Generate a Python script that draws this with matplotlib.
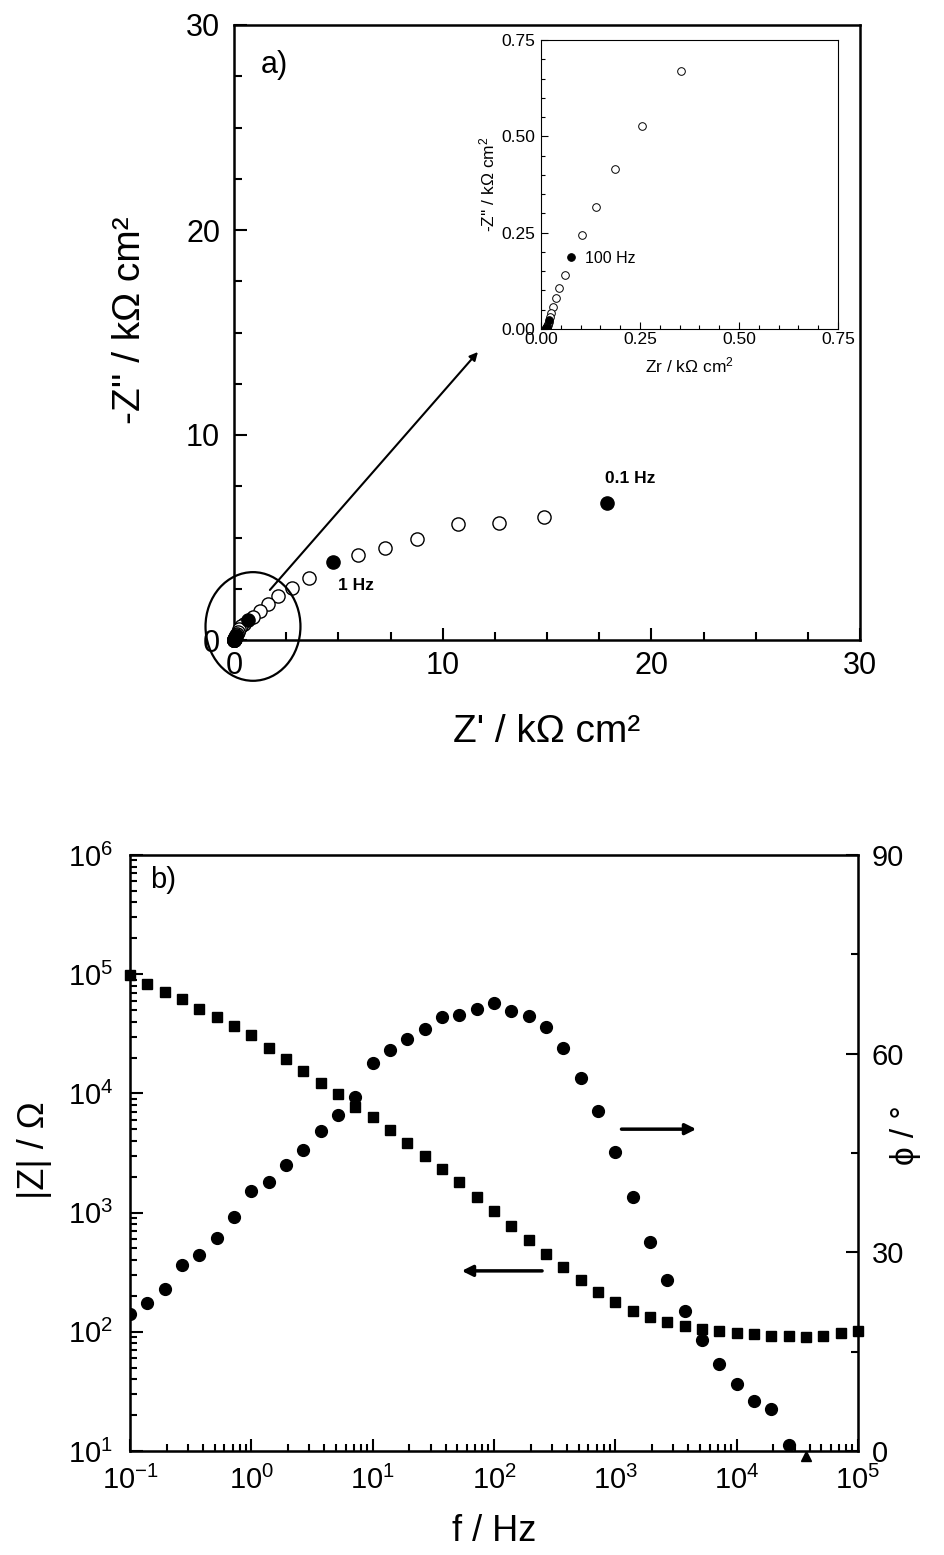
import matplotlib
matplotlib.use("Agg")
import matplotlib.pyplot as plt
from matplotlib.patches import Ellipse
from matplotlib.ticker import MultipleLocator, FormatStrFormatter, LogLocator, NullFormatter
import numpy as np

plt.rcParams["font.family"] = ["Liberation Sans", "DejaVu Sans"]
plt.rcParams["mathtext.fontset"] = "custom"
plt.rcParams["mathtext.rm"] = "Liberation Sans"
plt.rcParams["mathtext.it"] = "Liberation Sans:italic"

# frequencies (Hz), 7 points per decade, 0.1 Hz -> 100 kHz
freq = [0.1, 0.139, 0.193, 0.268, 0.373, 0.518, 0.720,
        1.0, 1.39, 1.93, 2.68, 3.73, 5.18, 7.20,
        10, 13.9, 19.3, 26.8, 37.3, 51.8, 72.0,
        100, 139, 193, 268, 373, 518, 720,
        1000, 1390, 1930, 2680, 3730, 5180, 7200,
        10000, 13900, 19300, 26800, 37300, 51800, 72000,
        100000]

# Nyquist data (kOhm cm2)
z_re = [17.86, 14.85, 12.70, 10.72, 8.75, 7.24, 5.96, 4.76, 3.61, 2.80, 2.12,
        1.65, 1.24, 0.93, 0.66, 0.46, 0.353, 0.256, 0.188, 0.140, 0.103, 0.076,
        0.060, 0.046, 0.037, 0.031, 0.026, 0.022, 0.021, 0.019, 0.018, 0.017,
        0.016, 0.015, 0.0145, 0.014, 0.0135, 0.013, 0.0128, 0.0125, 0.0123,
        0.0122, 0.012]
z_im = [6.67, 6.01, 5.72, 5.66, 4.91, 4.47, 4.15, 3.79, 3.03, 2.52, 2.13,
        1.76, 1.42, 1.14, 0.98, 0.80, 0.670, 0.528, 0.414, 0.317, 0.245, 0.187,
        0.139, 0.106, 0.080, 0.058, 0.042, 0.030, 0.023, 0.017, 0.013, 0.010,
        0.007, 0.005, 0.004, 0.003, 0.0025, 0.002, 0.0015, 0.001, 0.0008,
        0.0005, 0.0003]

# Bode data
z_mod = [98400, 82800, 70500, 61900, 51400, 43500, 37000, 30900, 24200, 19300,
         15300, 12300, 9820, 7730, 6380, 4930, 3850, 2990, 2320, 1790, 1360,
         1030, 776, 592, 450, 350, 270, 214, 177, 150, 132, 120, 112, 105, 102,
         98.4, 95.3, 92.7, 91.6, 91.0, 92.3, 97.0, 102]
phase = [20.7, 22.3, 24.5, 28.1, 29.6, 32.2, 35.3, 39.3, 40.6, 43.2, 45.5,
         48.3, 50.7, 53.4, 58.6, 60.5, 62.2, 63.8, 65.5, 65.8, 66.8, 67.6,
         66.5, 65.7, 64.1, 60.8, 56.3, 51.3, 45.2, 38.3, 31.6, 25.8, 21.1,
         16.7, 13.2, 10.1, 7.5, 6.4, 0.9]
phase_last_f = 37300
phase_last = -0.7

W, H = 944, 1555
fig = plt.figure(figsize=(W / 100, H / 100), dpi=100)


def frac(left, top, right, bottom):
    return [left / W, 1 - bottom / H, (right - left) / W, (bottom - top) / H]


freq = np.array(freq)
z_re = np.array(z_re)
z_im = np.array(z_im)
decade = np.isclose(np.log10(freq), np.round(np.log10(freq)))

# ---------------- a) Nyquist ----------------
ax = fig.add_axes(frac(234, 25, 860, 640))
ax.plot(z_re[~decade], z_im[~decade], "o", mfc="white", mec="black",
        ms=9.5, mew=1.0, clip_on=False, zorder=3)
ax.plot(z_re[decade], z_im[decade], "o", mfc="black", mec="black",
        ms=9.5, mew=1.0, clip_on=False, zorder=4)
ax.set_xlim(0, 30)
ax.set_ylim(0, 30)
ax.xaxis.set_major_locator(MultipleLocator(10))
ax.yaxis.set_major_locator(MultipleLocator(10))
ax.xaxis.set_minor_locator(MultipleLocator(2.5))
ax.yaxis.set_minor_locator(MultipleLocator(2.5))
ax.tick_params(which="both", direction="in", top=False, right=False,
               width=1.5, labelsize=22)
ax.tick_params(which="major", length=9)
ax.tick_params(which="minor", length=5.5)
ax.tick_params(axis="x", pad=8)
ax.tick_params(axis="y", pad=10)
for s in ax.spines.values():
    s.set_linewidth(1.8)
ax.set_xlabel("Z' / kΩ cm²", fontsize=28)
ax.set_ylabel("-Z'' / kΩ cm²", fontsize=28)
ax.xaxis.set_label_coords(0.5, -0.12)
ax.yaxis.set_label_coords(-0.137, 0.52)
ax.text(0.042, 0.935, "a)", transform=ax.transAxes, fontsize=22, va="center")
ax.text(17.78, 7.9, "0.1 Hz", fontsize=12.5, fontweight="bold", va="center")
ax.text(4.98, 2.65, "1 Hz", fontsize=12.5, fontweight="bold", va="center")
ax.add_patch(Ellipse((0.91, 0.66), 4.55, 5.3, fill=False, lw=1.6,
                     ec="black", clip_on=False, zorder=5))
ax.annotate("", xy=(11.69, 14.05), xytext=(1.72, 2.44),
            arrowprops=dict(arrowstyle="-|>", color="black", lw=1.5,
                            mutation_scale=12, shrinkA=0, shrinkB=0))

# inset
axi = fig.add_axes(frac(541, 40, 838, 329))
axi.plot(z_re[~decade], z_im[~decade], "o", mfc="white", mec="black",
         ms=5.5, mew=0.7, zorder=3)
axi.plot(z_re[decade], z_im[decade], "o", mfc="black", mec="black",
         ms=5.5, mew=0.7, zorder=4)
axi.set_xlim(0, 0.75)
axi.set_ylim(0, 0.75)
axi.xaxis.set_major_locator(MultipleLocator(0.25))
axi.yaxis.set_major_locator(MultipleLocator(0.25))
axi.xaxis.set_minor_locator(MultipleLocator(0.05))
axi.yaxis.set_minor_locator(MultipleLocator(0.05))
axi.xaxis.set_major_formatter(FormatStrFormatter("%.2f"))
axi.yaxis.set_major_formatter(FormatStrFormatter("%.2f"))
axi.tick_params(which="both", direction="in", top=False, right=False,
                width=0.8, labelsize=12.5)
axi.tick_params(which="major", length=5)
axi.tick_params(which="minor", length=3)
axi.tick_params(axis="x", pad=2)
axi.tick_params(axis="y", pad=4)
for s in axi.spines.values():
    s.set_linewidth(0.8)
axi.set_xlabel("Zr / kΩ cm$^2$", fontsize=12.5, labelpad=6)
axi.set_ylabel("-Z'' / kΩ cm$^2$", fontsize=12.5, labelpad=3)
axi.text(0.111, 0.182, "100 Hz", fontsize=11.5, va="center")

# ---------------- b) Bode ----------------
bx = fig.add_axes(frac(130, 855, 858, 1451))
bx.plot(freq, z_mod, "s", color="black", ms=7.5, clip_on=False, zorder=3)
bx.set_xscale("log")
bx.set_yscale("log")
bx.set_xlim(0.1, 1e5)
bx.set_ylim(10, 1e6)
bx.xaxis.set_major_locator(LogLocator(base=10, numticks=20))
bx.xaxis.set_minor_locator(LogLocator(base=10, subs=np.arange(2, 10), numticks=20))
bx.yaxis.set_minor_locator(LogLocator(base=10, subs=np.arange(2, 10), numticks=20))
bx.xaxis.set_minor_formatter(NullFormatter())
bx.yaxis.set_minor_formatter(NullFormatter())
bx.tick_params(which="both", direction="in", top=False, right=False,
               width=1.5, labelsize=21)
bx.tick_params(which="major", length=9)
bx.tick_params(which="minor", length=5)
bx.tick_params(axis="x", pad=11)
bx.tick_params(axis="y", pad=12)
for s in bx.spines.values():
    s.set_linewidth(1.8)
bx.set_xlabel("f / Hz", fontsize=26)
bx.set_ylabel("|Z| / Ω", fontsize=26)
bx.xaxis.set_label_coords(0.5, -0.105)
bx.yaxis.set_label_coords(-0.107, 0.505)
bx.text(0.0275, 0.958, "b)", transform=bx.transAxes, fontsize=21, va="center")

bx2 = bx.twinx()
bx2.plot(freq[:len(phase)], phase, "o", color="black", ms=8.5, zorder=3)
bx2.plot([phase_last_f], [phase_last], "^", color="black", ms=7,
         clip_on=False, zorder=3)
bx2.set_ylim(0, 90)
bx2.yaxis.set_major_locator(MultipleLocator(30))
bx2.yaxis.set_minor_locator(MultipleLocator(15))
bx2.tick_params(which="both", direction="in", width=1.5, labelsize=21, pad=10)
bx2.tick_params(which="major", length=9)
bx2.tick_params(which="minor", length=5)
bx2.set_ylabel("ϕ / °", fontsize=24, rotation=90)
bx2.yaxis.set_label_coords(1.044, 0.53)

bx2.annotate("", xy=(4645, 48.6), xytext=(1124, 48.6),
             arrowprops=dict(arrowstyle="-|>", color="black", lw=2.5,
                             mutation_scale=16, shrinkA=0, shrinkB=0))
bx2.annotate("", xy=(54.2, 27.2), xytext=(249, 27.2),
             arrowprops=dict(arrowstyle="-|>", color="black", lw=2.5,
                             mutation_scale=16, shrinkA=0, shrinkB=0))

fig.savefig("out.png", dpi=100)
